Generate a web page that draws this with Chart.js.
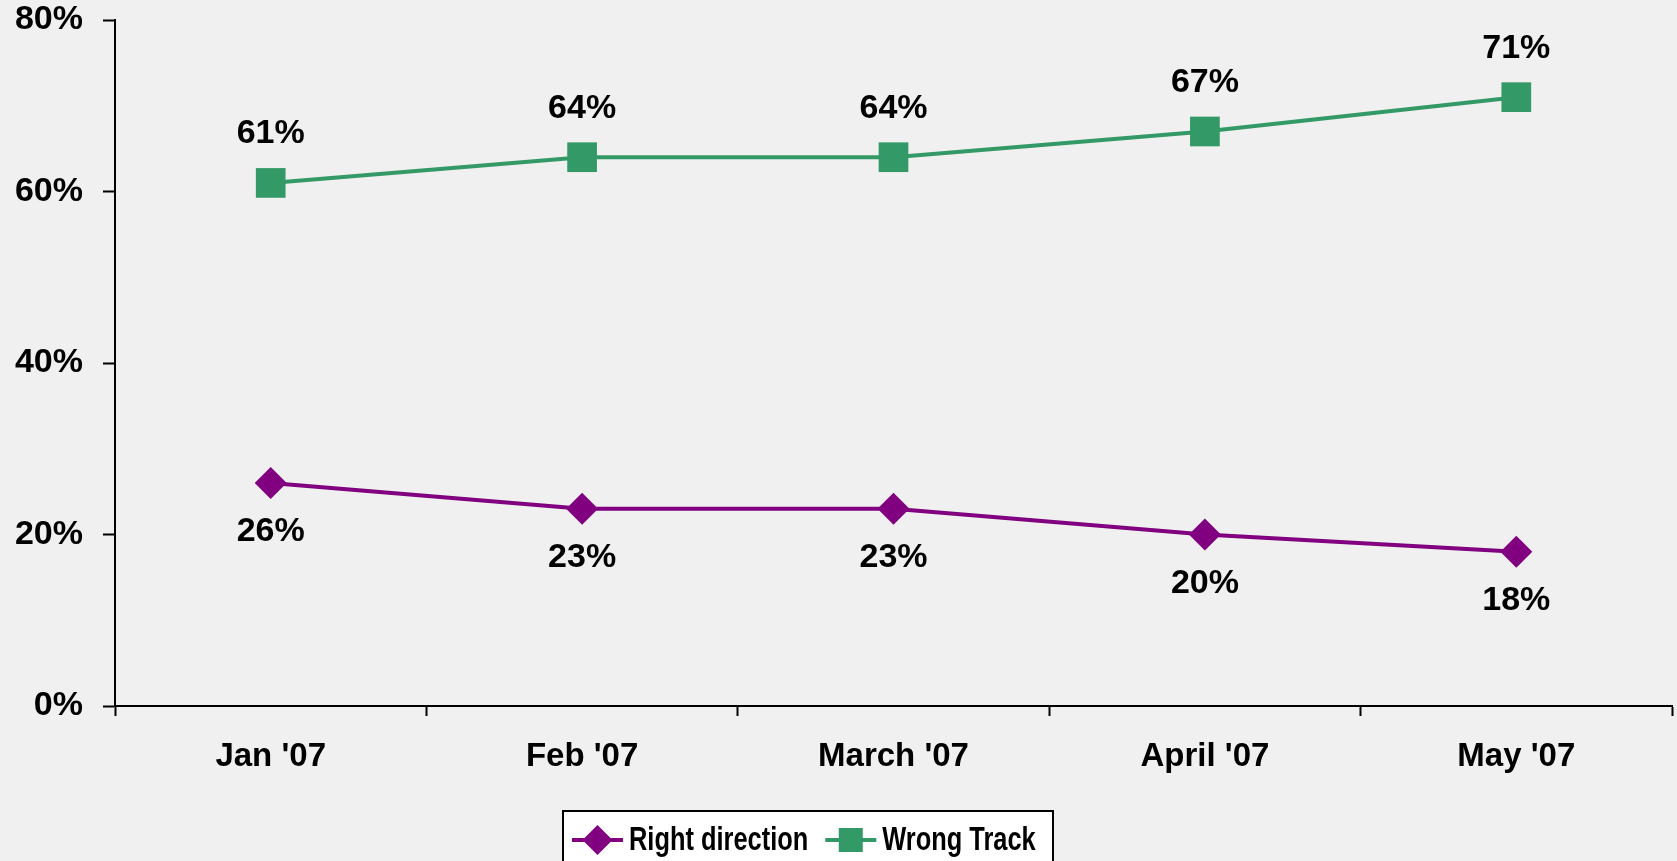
<!DOCTYPE html>
<html>
<head>
<meta charset="utf-8">
<script src="https://cdn.jsdelivr.net/npm/chart.js@4.4.1/dist/chart.umd.min.js"></script>
<style>
  html, body { margin: 0; padding: 0; background: #f0f0f0; overflow: hidden; }
  #wrap { width: 1677px; height: 861px; position: relative; overflow: hidden; }
  canvas { display: block; }
</style>
</head>
<body>
<div id="wrap"><canvas id="myChart"></canvas></div>
<script>
// datos del grafico
const meses = ["Jan '07", "Feb '07", "March '07", "April '07", "May '07"];
const rightDirection = [26, 23, 23, 20, 18];
const wrongTrack = [61, 64, 64, 67, 71];
const serieNombres = ['Right direction', 'Wrong Track'];
const colorMorado = '#800080';
const colorVerde = '#339966';
const fuente = '"Liberation Sans", Arial, sans-serif';

// etiquetas de valor encima / debajo de cada punto
const etiquetasPlugin = {
    id: 'etiquetas',
    afterDatasetsDraw(chart) {
        const ctx = chart.ctx;
        ctx.save();
        ctx.font = 'bold 34px ' + fuente;
        ctx.fillStyle = '#000';
        ctx.textAlign = 'center';
        ctx.textBaseline = 'middle';
        chart.data.datasets.forEach((ds, i) => {
            const meta = chart.getDatasetMeta(i);
            const desp = i === 0 ? 49 : -49;
            meta.data.forEach((p, j) => {
                ctx.fillText(ds.data[j] + '%', p.x, p.y + desp);
            });
        });
        ctx.restore();
    }
};

// leyenda con caja blanca abajo
const leyendaPlugin = {
    id: 'leyendaCaja',
    afterDraw(chart) {
        const ctx = chart.ctx;
        const x0 = 563, y0 = 811, ancho = 490, alto = 60;
        const escalaX = 0.77;
        ctx.save();
        ctx.fillStyle = '#ffffff';
        ctx.fillRect(x0, y0, ancho, alto);
        ctx.strokeStyle = '#000';
        ctx.lineWidth = 2;
        ctx.strokeRect(x0, y0, ancho, alto);
        ctx.font = 'bold 33px ' + fuente;
        ctx.textBaseline = 'middle';
        let x = x0 + 9;
        const yc = 840;
        chart.data.datasets.forEach((ds) => {
            ctx.strokeStyle = ds.borderColor;
            ctx.lineWidth = 4;
            ctx.beginPath();
            ctx.moveTo(x, yc);
            ctx.lineTo(x + 51, yc);
            ctx.stroke();
            ctx.fillStyle = ds.borderColor;
            const cx = x + 25.5;
            if (ds.pointStyle === 'rectRot') {
                ctx.beginPath();
                ctx.moveTo(cx, yc - 15);
                ctx.lineTo(cx + 15, yc);
                ctx.lineTo(cx, yc + 15);
                ctx.lineTo(cx - 15, yc);
                ctx.closePath();
                ctx.fill();
            } else {
                ctx.fillRect(cx - 12, yc - 12, 24, 24);
            }
            ctx.fillStyle = '#000';
            ctx.save();
            ctx.translate(x + 57, yc + 1);
            ctx.scale(escalaX, 1);
            ctx.fillText(ds.label, 0, 0);
            ctx.restore();
            x += 57 + ctx.measureText(ds.label).width * escalaX + 17;
        });
        ctx.restore();
    }
};

const ctx = document.getElementById('myChart').getContext('2d');
const myChart = new Chart(ctx, {
    type: 'line',
    data: {
        labels: meses,
        datasets: [{
            label: serieNombres[0],
            data: rightDirection,
            borderColor: colorMorado,
            backgroundColor: colorMorado,
            borderWidth: 4,
            pointStyle: 'rectRot',
            pointRadius: 16,
            pointHoverRadius: 16,
            pointBorderWidth: 0,
            tension: 0
        }, {
            label: serieNombres[1],
            data: wrongTrack,
            borderColor: colorVerde,
            backgroundColor: colorVerde,
            borderWidth: 4,
            pointStyle: 'rect',
            pointRadius: 21,
            pointHoverRadius: 21,
            pointBorderWidth: 0,
            tension: 0
        }]
    },
    options: {
        responsive: true,
        maintainAspectRatio: false,
        animation: false,
        layout: { padding: 0, autoPadding: false },
        plugins: {
            legend: { display: false },
            tooltip: { enabled: false }
        },
        scales: {
            x: {
                offset: true,
                grid: {
                    offset: true,
                    drawOnChartArea: false,
                    tickLength: 10,
                    tickColor: '#000',
                    tickWidth: 2
                },
                border: { color: '#000', width: 2 },
                ticks: {
                    color: '#000',
                    font: { family: fuente, size: 33, weight: 'bold' },
                    padding: 21,
                    maxRotation: 0
                },
                afterFit(scale) {
                    scale.height = 155;
                    scale.paddingLeft = 0;
                    scale.paddingRight = 5;
                }
            },
            y: {
                min: 0,
                max: 80,
                grid: {
                    drawOnChartArea: false,
                    tickLength: 12,
                    tickColor: '#000',
                    tickWidth: 2
                },
                border: { color: '#000', width: 2 },
                ticks: {
                    stepSize: 20,
                    color: '#000',
                    font: { family: fuente, size: 34, weight: 'bold' },
                    padding: 20,
                    callback: (v) => v + '%'
                },
                afterFit(scale) {
                    scale.width = 115;
                    scale.paddingTop = 20;
                    scale.paddingBottom = 0;
                }
            }
        }
    },
    plugins: [etiquetasPlugin, leyendaPlugin]
});
</script>
</body>
</html>
